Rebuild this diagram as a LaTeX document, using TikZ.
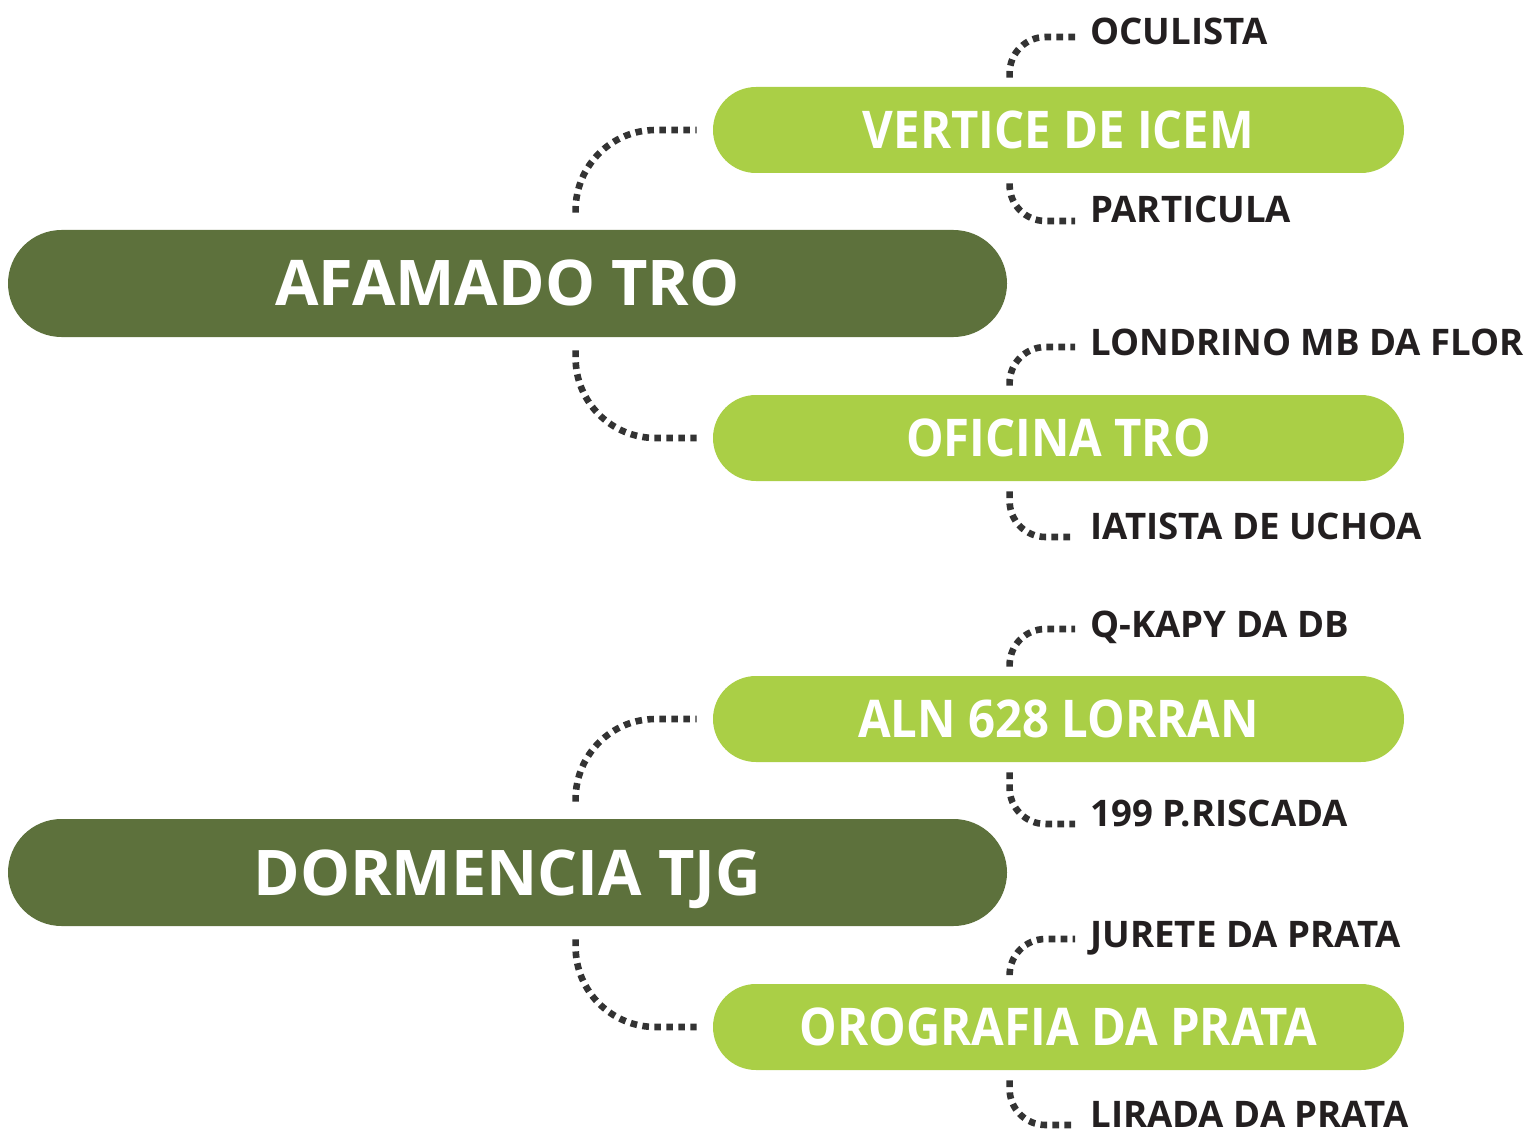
\documentclass[tikz,border=0pt]{standalone}
\usepackage{fontspec}
\setmainfont{Open Sans}
\newfontfamily\subfont{Open Sans}[FakeStretch=0.91]
\usetikzlibrary{calc}
\definecolor{darkg}{HTML}{5D713C}
\definecolor{lightg}{HTML}{AACF46}
\definecolor{dotc}{HTML}{333333}
\definecolor{labc}{HTML}{231F20}
\begin{document}
\begin{tikzpicture}[x=0.5pt,y=-0.5pt,
  mainbox/.style={rectangle, fill=darkg, rounded corners=26.75pt, minimum width=499.5pt, minimum height=53.5pt, inner sep=0pt, text=white, font=\fontsize{31.5}{36}\selectfont\bfseries, text height=22.5pt, text depth=0pt},
  subbox/.style={rectangle, fill=lightg, rounded corners=21.5pt, minimum width=345.5pt, minimum height=43pt, inner sep=0pt, text=white, font=\subfont\fontsize{26}{30}\selectfont\bfseries, text height=18.5pt, text depth=0pt},
  leaf/.style={anchor=base west, inner sep=0pt, text=labc, font=\fontsize{18.3}{21}\selectfont\bfseries},
  bigconn/.style={draw=dotc, line width=3.3pt, dash pattern=on 3.3pt off 2.7pt, rounded corners=40pt},
  smallconn/.style={draw=dotc, line width=3.3pt, dash pattern=on 3.3pt off 2.7pt, rounded corners=18pt}]
\useasboundingbox (0,0) rectangle (1525,1134);
% main nodes
\node[mainbox] (a) at (507.5,283.5) {AFAMADO TRO};
\node[mainbox] (d) at (507.5,872.5) {DORMENCIA TJG};
% sub nodes
\node[subbox] (v) at (1058.5,130) {VERTICE DE ICEM};
\node[subbox] (o) at (1058.5,438) {OFICINA TRO};
\node[subbox] (n) at (1058.5,719) {ALN 628 LORRAN};
\node[subbox] (g) at (1058.5,1027) {OROGRAFIA DA PRATA};
% leaves
\node[leaf] (l1) at (1090,45) {OCULISTA};
\node[leaf] (l2) at (1090,223) {PARTICULA};
\node[leaf] (l3) at (1090,355) {LONDRINO MB DA FLOR};
\node[leaf] (l4) at (1090,539) {IATISTA DE UCHOA};
\node[leaf] (l5) at (1090,637) {Q-KAPY DA DB};
\node[leaf] (l6) at (1090,826) {199 P.RISCADA};
\node[leaf] (l7) at (1090,947) {JURETE DA PRATA};
\node[leaf] (l8) at (1090,1127) {LIRADA DA PRATA};
% main connectors
\draw[bigconn] ($(a.north west)+(568,-17)$) |- ($(v.west)+(-16,0)$);
\draw[bigconn] ($(a.south west)+(568,13)$) |- ($(o.west)+(-16,0)$);
\draw[bigconn] ($(d.north west)+(568,-17)$) |- ($(n.west)+(-16,0)$);
\draw[bigconn] ($(d.south west)+(568,13)$) |- ($(g.west)+(-16,0)$);
% leaf connectors
\foreach \b/\t/\u in {v/l1/l2, o/l3/l4, n/l5/l6, g/l7/l8}{
  \draw[smallconn] ($(\b.north west)+(297,-9)$) |- ($(\t.base west)+(-15,-8)$);
  \draw[smallconn] ($(\b.south west)+(297,10)$) |- ($(\u.base west)+(-15,-2)$);
}
\end{tikzpicture}
\end{document}
